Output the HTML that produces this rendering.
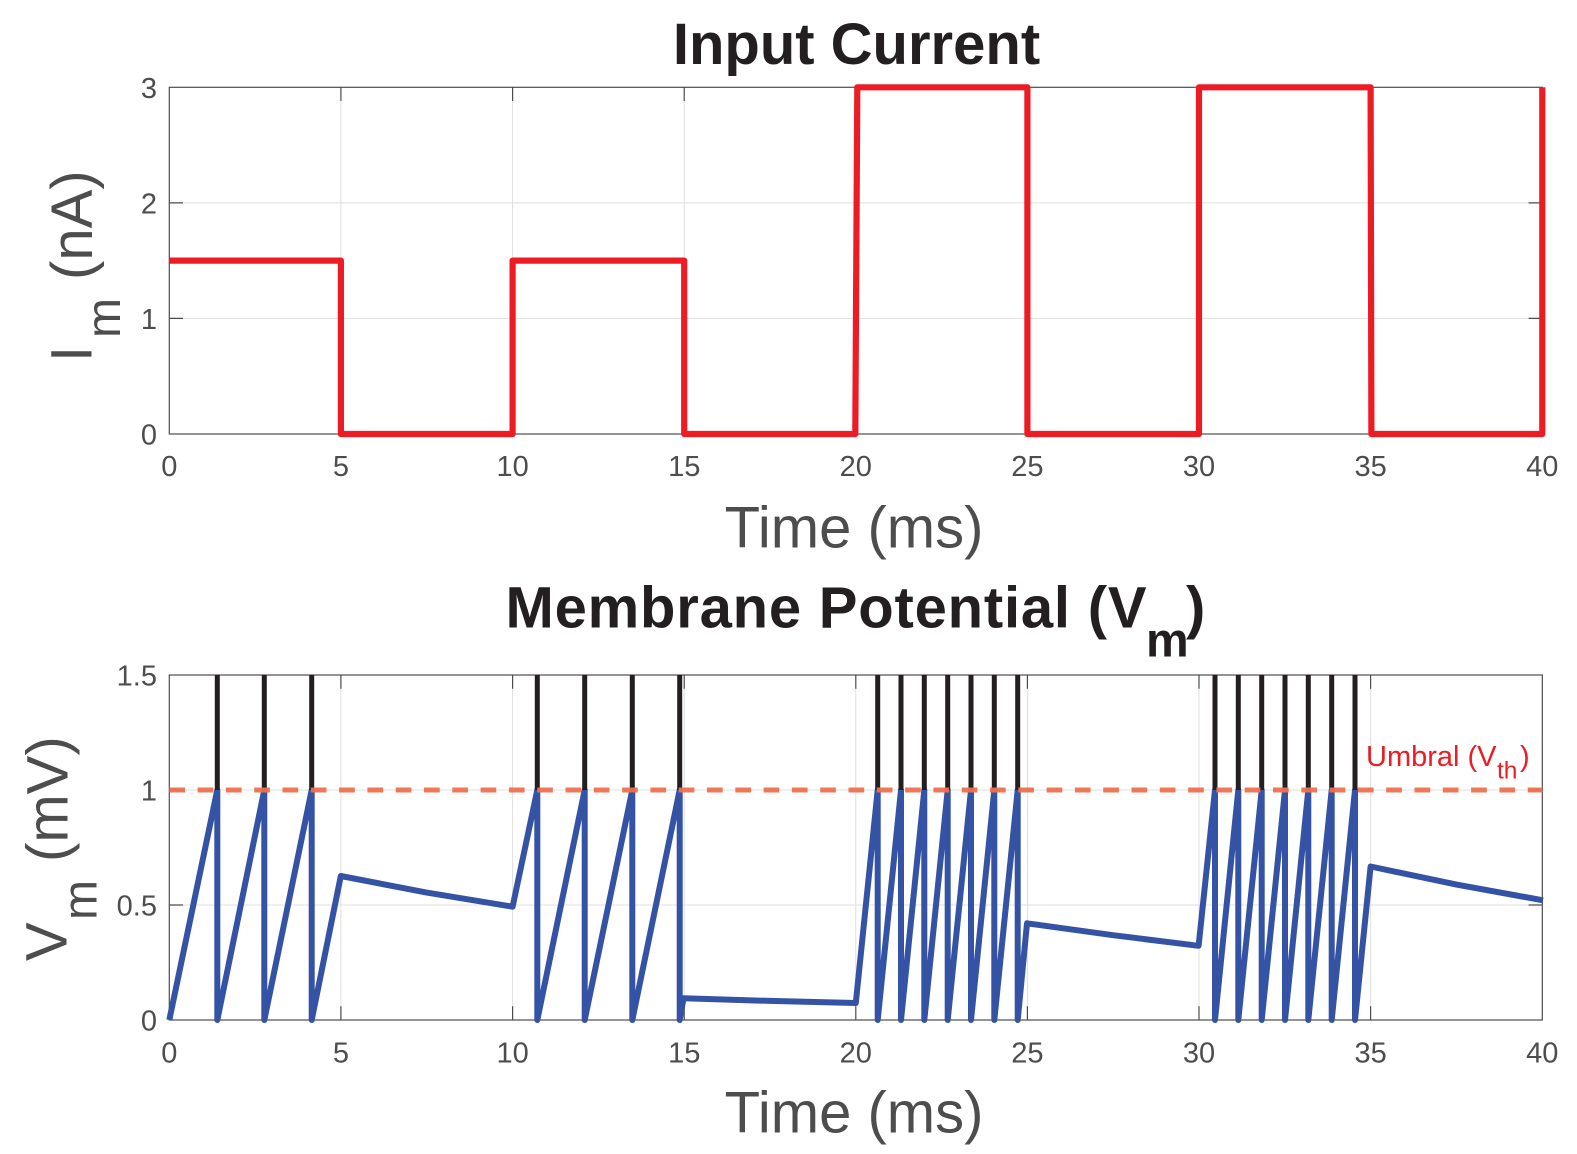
<!DOCTYPE html>
<html>
<head>
<meta charset="utf-8">
<style>
  html, body { margin: 0; padding: 0; background: #ffffff; }
  svg { display: block; }
  text { font-family: "Liberation Sans", Arial, Helvetica, sans-serif; }
</style>
</head>
<body>
<svg width="1577" height="1154" viewBox="0 0 1577 1154" xmlns="http://www.w3.org/2000/svg">
  <rect x="0" y="0" width="1577" height="1154" fill="#ffffff"/>

  <!-- ================= TOP PLOT ================= -->
  <g stroke="#dfdfdf" stroke-width="1" fill="none">
    <line x1="340.9" y1="87.3" x2="340.9" y2="434"/>
    <line x1="512.6" y1="87.3" x2="512.6" y2="434"/>
    <line x1="684.2" y1="87.3" x2="684.2" y2="434"/>
    <line x1="855.8" y1="87.3" x2="855.8" y2="434"/>
    <line x1="1027.4" y1="87.3" x2="1027.4" y2="434"/>
    <line x1="1199.0" y1="87.3" x2="1199.0" y2="434"/>
    <line x1="1370.6" y1="87.3" x2="1370.6" y2="434"/>
    <line x1="169.3" y1="318.4" x2="1542.3" y2="318.4"/>
    <line x1="169.3" y1="202.9" x2="1542.3" y2="202.9"/>
  </g>
  <g stroke="#4d4d4d" stroke-width="1.2" fill="none">
    <rect x="169.3" y="87.3" width="1373" height="346.7"/>
    <path d="M340.9 434 V420.3 M512.6 434 V420.3 M684.2 434 V420.3 M855.8 434 V420.3 M1027.4 434 V420.3 M1199.0 434 V420.3 M1370.6 434 V420.3"/>
    <path d="M340.9 87.3 V101 M512.6 87.3 V101 M684.2 87.3 V101 M855.8 87.3 V101 M1027.4 87.3 V101 M1199.0 87.3 V101 M1370.6 87.3 V101"/>
    <path d="M169.3 318.4 H183 M169.3 202.9 H183 M1542.3 318.4 H1528.6 M1542.3 202.9 H1528.6"/>
  </g>
  <polyline fill="none" stroke="#ED1C24" stroke-width="6.2" stroke-linejoin="round" stroke-linecap="butt"
    points="169.3,260.6 340.9,260.6 340.9,434 512.6,434 512.6,260.6 684.2,260.6 684.2,434 855.3,434 857.3,87.3 1027.4,87.3 1027.4,434 1199.0,434 1199.0,87.3 1370.6,87.3 1371.4,434 1542.3,434 1542.3,87.3"/>
  <g fill="#4d4d4d" font-size="29" text-anchor="middle">
    <text x="169.3" y="476">0</text>
    <text x="340.9" y="476">5</text>
    <text x="512.6" y="476">10</text>
    <text x="684.2" y="476">15</text>
    <text x="855.8" y="476">20</text>
    <text x="1027.4" y="476">25</text>
    <text x="1199.0" y="476">30</text>
    <text x="1370.6" y="476">35</text>
    <text x="1542.3" y="476">40</text>
  </g>
  <g fill="#4d4d4d" font-size="29" text-anchor="end">
    <text x="157" y="444.5">0</text>
    <text x="157" y="328.9">1</text>
    <text x="157" y="213.4">2</text>
    <text x="157" y="97.8">3</text>
  </g>
  <text x="856.5" y="64" font-size="58" font-weight="bold" fill="#231f20" text-anchor="middle">Input Current</text>
  <text x="854" y="547.3" font-size="58" fill="#4d4d4d" text-anchor="middle">Time (ms)</text>
  <text transform="translate(91.7,362) rotate(-90)" font-size="58" fill="#4d4d4d">I</text>
  <text transform="translate(120,338) rotate(-90)" font-size="48" fill="#4d4d4d">m</text>
  <text transform="translate(92,280) rotate(-90)" font-size="58" fill="#4d4d4d">(nA)</text>

  <!-- ================= BOTTOM PLOT ================= -->
  <g stroke="#dfdfdf" stroke-width="1" fill="none">
    <line x1="340.9" y1="675" x2="340.9" y2="1020"/>
    <line x1="512.6" y1="675" x2="512.6" y2="1020"/>
    <line x1="684.2" y1="675" x2="684.2" y2="1020"/>
    <line x1="855.8" y1="675" x2="855.8" y2="1020"/>
    <line x1="1027.4" y1="675" x2="1027.4" y2="1020"/>
    <line x1="1199.0" y1="675" x2="1199.0" y2="1020"/>
    <line x1="1370.6" y1="675" x2="1370.6" y2="1020"/>
    <line x1="169.3" y1="905" x2="1542.3" y2="905"/>
    <line x1="169.3" y1="790" x2="1542.3" y2="790"/>
  </g>
  <g stroke="#4d4d4d" stroke-width="1.2" fill="none">
    <rect x="169.3" y="675" width="1373" height="345"/>
    <path d="M340.9 1020 V1006.3 M512.6 1020 V1006.3 M684.2 1020 V1006.3 M855.8 1020 V1006.3 M1027.4 1020 V1006.3 M1199.0 1020 V1006.3 M1370.6 1020 V1006.3"/>
    <path d="M340.9 675 V688.7 M512.6 675 V688.7 M684.2 675 V688.7 M855.8 675 V688.7 M1027.4 675 V688.7 M1199.0 675 V688.7 M1370.6 675 V688.7"/>
    <path d="M169.3 905 H183 M169.3 790 H183 M1542.3 905 H1528.6 M1542.3 790 H1528.6"/>
  </g>

  <polyline fill="none" stroke="#3453A5" stroke-width="6" stroke-linejoin="round" stroke-linecap="butt"
    points="
    169.3,1020 217.3,790 217.3,1020 264.3,790 264.3,1020 311.7,790 311.7,1020 340.8,876
    426.7,892.6 512.6,906.7
    537.3,790 537.3,1020 584.7,790 584.7,1020 632.3,790 632.3,1020 679.7,790 679.7,1020 683.5,998.3
    769.7,1000.9 855.8,1003
    877.7,790 877.7,1020 901,790 901,1020 924.3,790 924.3,1020 947.7,790 947.7,1020 971,790 971,1020 994.3,790 994.3,1020 1017.7,790 1017.7,1020 1027,923.3
    1113,935.2 1198.6,945.8
    1215,790 1215,1020 1238.3,790 1238.3,1020 1261.7,790 1261.7,1020 1285,790 1285,1020 1308.3,790 1308.3,1020 1331.7,790 1331.7,1020 1355,790 1355,1020 1370.6,866.5
    1456.5,884.6 1543,900.3"/>

  <g stroke="#231f20" stroke-width="5" fill="none">
    <path d="M217.3 675 V790 M264.3 675 V790 M311.7 675 V790
             M537.3 675 V790 M584.7 675 V790 M632.3 675 V790 M679.7 675 V790
             M877.7 675 V790 M901 675 V790 M924.3 675 V790 M947.7 675 V790 M971 675 V790 M994.3 675 V790 M1017.7 675 V790
             M1215 675 V790 M1238.3 675 V790 M1261.7 675 V790 M1285 675 V790 M1308.3 675 V790 M1331.7 675 V790 M1355 675 V790"/>
  </g>

  <line x1="169.3" y1="790" x2="1542.3" y2="790" stroke="#F07050" stroke-width="5" stroke-dasharray="15.7 12.6" opacity="0.95"/>

  <text x="1366" y="766" font-size="29" fill="#ED1C24">Umbral (V</text>
  <text x="1497" y="778.3" font-size="24.5" fill="#ED1C24">th</text>
  <text x="1520" y="766" font-size="29" fill="#ED1C24">)</text>

  <g fill="#4d4d4d" font-size="29" text-anchor="middle">
    <text x="169.3" y="1062.7">0</text>
    <text x="340.9" y="1062.7">5</text>
    <text x="512.6" y="1062.7">10</text>
    <text x="684.2" y="1062.7">15</text>
    <text x="855.8" y="1062.7">20</text>
    <text x="1027.4" y="1062.7">25</text>
    <text x="1199.0" y="1062.7">30</text>
    <text x="1370.6" y="1062.7">35</text>
    <text x="1542.3" y="1062.7">40</text>
  </g>
  <g fill="#4d4d4d" font-size="29" text-anchor="end">
    <text x="157" y="1030.5">0</text>
    <text x="157" y="915.5">0.5</text>
    <text x="157" y="800.5">1</text>
    <text x="157" y="685.5">1.5</text>
  </g>

  <text x="505.5" y="627.7" font-size="58" font-weight="bold" fill="#231f20" textLength="641" lengthAdjust="spacing">Membrane Potential (V</text>
  <text x="1146" y="656.7" font-size="48" font-weight="bold" fill="#231f20">m</text>
  <text x="1186" y="627.7" font-size="58" font-weight="bold" fill="#231f20">)</text>

  <text x="854" y="1132.7" font-size="58" fill="#4d4d4d" text-anchor="middle">Time (ms)</text>

  <text transform="translate(66.7,961) rotate(-90)" font-size="58" fill="#4d4d4d">V</text>
  <text transform="translate(96.7,920) rotate(-90)" font-size="48" fill="#4d4d4d">m</text>
  <text transform="translate(67.3,862) rotate(-90)" font-size="58" fill="#4d4d4d">(mV)</text>
</svg>
</body>
</html>
